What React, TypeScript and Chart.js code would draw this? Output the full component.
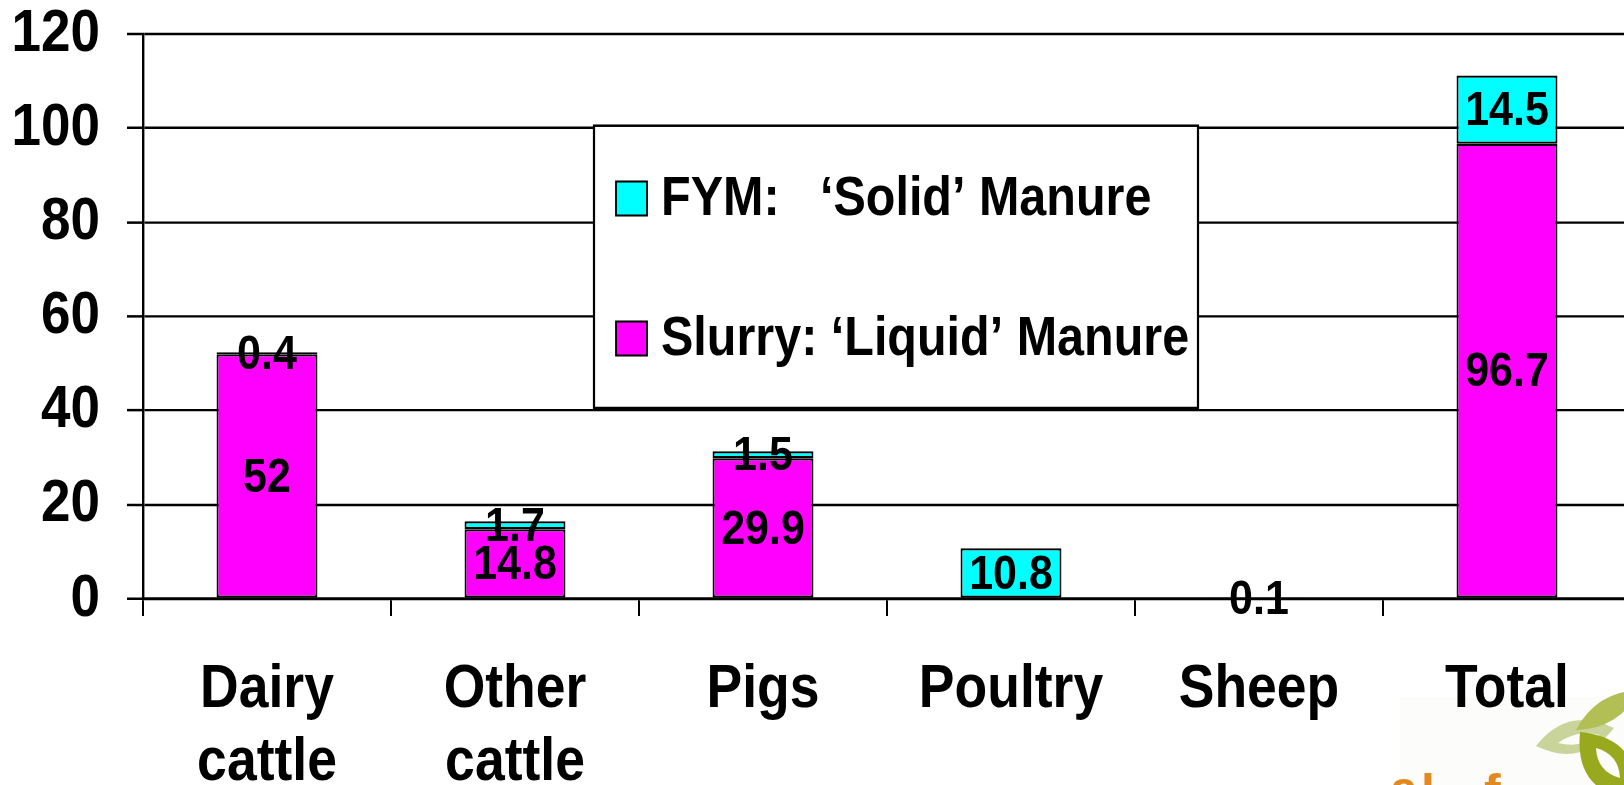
import React, { useEffect, useRef } from 'react';
import { Chart, registerables } from 'chart.js';

Chart.register(...registerables);

// ---- data ----
const categories: (string | string[])[] = [['Dairy', 'cattle'], ['Other', 'cattle'], 'Pigs', 'Poultry', 'Sheep', 'Total'];
const slurryValues = [52, 14.8, 29.9, 0, 0, 96.7];
const fymValues = [0.4, 1.7, 1.5, 10.8, 0.1, 14.5];
const slurryLabel = 'Slurry: \u2018Liquid\u2019 Manure';
const fymLabel = 'FYM:   \u2018Solid\u2019 Manure';
const yMin = 0;
const yMax = 120;
const yStep = 20;

// ---- layout ----
const W = 1640; // canvas wider than viewport so the plot runs past the right edge
const H_FULL = 785;
const H_LOG = 695; // logical height; drawn stretched vertically (like the source slide)
const K = H_FULL / H_LOG;
const L = (v: number) => v / K; // full-pixel y -> logical y
const FONT = "'Liberation Sans', Arial, Helvetica, sans-serif";
const MAGENTA = '#FF00FF';
const CYAN = '#00FFFF';

const valueLabelPlugin = {
  id: 'valueLabels',
  afterDatasetsDraw(chart: any) {
    const ctx = chart.ctx;
    ctx.save();
    ctx.font = `bold 43px ${FONT}`;
    ctx.fillStyle = '#000';
    ctx.textAlign = 'center';
    ctx.textBaseline = 'middle';
    chart.data.datasets.forEach((ds: any, di: number) => {
      const meta = chart.getDatasetMeta(di);
      meta.data.forEach((bar: any, i: number) => {
        const v = ds.data[i];
        if (!v) return;
        const cy = (bar.y + bar.base) / 2;
        ctx.fillText(String(v), bar.x, cy + 2);
      });
    });
    ctx.restore();
  },
};

const legendPlugin = {
  id: 'boxLegend',
  afterDatasetsDraw(chart: any) {
    const ctx = chart.ctx;
    const ds = chart.data.datasets;
    ctx.save();
    const x0 = 594, x1 = 1198, y0 = L(125.7), y1 = L(408);
    ctx.fillStyle = '#fff';
    ctx.fillRect(x0, y0, x1 - x0, y1 - y0);
    ctx.strokeStyle = '#000';
    ctx.lineWidth = 2.2;
    ctx.strokeRect(x0, y0, x1 - x0, y1 - y0);
    const items = [
      { label: ds[1].label, color: ds[1].backgroundColor, cy: L(198.5) },
      { label: ds[0].label, color: ds[0].backgroundColor, cy: L(338.5) },
    ];
    items.forEach((it) => {
      const sh = L(34);
      ctx.fillStyle = it.color;
      ctx.fillRect(616, it.cy - sh / 2, 31, sh);
      ctx.lineWidth = 1.8;
      ctx.strokeStyle = '#000';
      ctx.strokeRect(616, it.cy - sh / 2, 31, sh);
      ctx.fillStyle = '#000';
      ctx.font = `bold 48.5px ${FONT}`;
      ctx.textAlign = 'left';
      ctx.textBaseline = 'middle';
      ctx.fillText(it.label, 661, it.cy + 1);
    });
    ctx.restore();
  },
};

function almond(ctx: CanvasRenderingContext2D, x1: number, y1: number, x2: number, y2: number, half: number) {
  const mx = (x1 + x2) / 2, my = (y1 + y2) / 2;
  const dx = x2 - x1, dy = y2 - y1;
  const len = Math.hypot(dx, dy) || 1;
  const nx = -dy / len, ny = dx / len;
  const c = half * 2;
  ctx.moveTo(x1, y1);
  ctx.quadraticCurveTo(mx + nx * c, my + ny * c, x2, y2);
  ctx.quadraticCurveTo(mx - nx * c, my - ny * c, x1, y1);
  ctx.closePath();
}

const logoPlugin = {
  id: 'logo',
  beforeDraw(chart: any) {
    const ctx: CanvasRenderingContext2D = chart.ctx;
    ctx.save();
    ctx.scale(1, 1 / K); // draw in full-pixel coordinates
    const bg = '#fcfcfa';
    ctx.fillStyle = bg;
    ctx.fillRect(1400, 697, 240, 90);
    // pale leaf (ring)
    ctx.fillStyle = '#c9d49b';
    ctx.beginPath();
    almond(ctx, 1536, 746, 1614, 728, 16);
    ctx.fill();
    ctx.fillStyle = bg;
    ctx.beginPath();
    almond(ctx, 1558, 743, 1600, 735, 5);
    ctx.fill();
    // upper olive band
    ctx.fillStyle = '#b2bf55';
    ctx.beginPath();
    almond(ctx, 1576, 730, 1640, 690, 11);
    ctx.fill();
    // dark olive loop
    ctx.fillStyle = '#98a91d';
    ctx.beginPath();
    almond(ctx, 1580, 732, 1636, 800, 22);
    ctx.fill();
    ctx.fillStyle = bg;
    ctx.beginPath();
    almond(ctx, 1596, 748, 1620, 778, 7);
    ctx.fill();
    // orange wordmark fragment
    ctx.fillStyle = '#e28a1f';
    ctx.font = `bold 50px ${FONT}`;
    ctx.textAlign = 'left';
    ctx.textBaseline = 'alphabetic';
    ctx.fillText('a', 1390, 780 + 26);
    ctx.fillText('l', 1421, 773 + 36);
    ctx.fillText('f', 1484, 773 + 36);
    ctx.restore();
  },
};

export default function App() {
  const ref = useRef<HTMLCanvasElement | null>(null);

  useEffect(() => {
    const canvas = ref.current!;
    canvas.width = W;
    canvas.height = H_LOG;
    const chart = new Chart(canvas, {
      type: 'bar',
      data: {
        labels: categories as any,
        datasets: [
          {
            label: slurryLabel,
            data: slurryValues,
            backgroundColor: MAGENTA,
            borderColor: '#000',
            borderWidth: 2,
            borderSkipped: false,
            barPercentage: 0.407,
            categoryPercentage: 1,
          },
          {
            label: fymLabel,
            data: fymValues,
            backgroundColor: CYAN,
            borderColor: '#000',
            borderWidth: 2,
            borderSkipped: false,
            barPercentage: 0.407,
            categoryPercentage: 1,
          },
        ],
      },
      options: {
        responsive: false,
        animation: false,
        devicePixelRatio: 1,
        events: [],
        layout: { padding: { top: L(34), right: 9, left: 0, bottom: 0 } },
        plugins: { legend: { display: false }, tooltip: { enabled: false }, title: { display: false } },
        scales: {
          x: {
            stacked: true,
            grid: { offset: true, drawOnChartArea: false, color: '#000', lineWidth: 2, tickLength: 15 },
            border: { display: true, color: '#000', width: 2.4 },
            ticks: {
              color: '#000',
              font: { family: FONT, size: 53.5, weight: 'bold', lineHeight: 1.22 },
              padding: 33,
              maxRotation: 0,
              autoSkip: false,
            },
            afterFit: (s: any) => {
              s.height = H_LOG - L(599);
            },
          },
          y: {
            stacked: true,
            min: yMin,
            max: yMax,
            ticks: {
              stepSize: yStep,
              color: '#000',
              font: { family: FONT, size: 53, weight: 'bold' },
              padding: 27,
            },
            grid: { color: '#000', lineWidth: 2.2, tickLength: 16 },
            border: { display: true, color: '#000', width: 2.4 },
            afterFit: (s: any) => {
              s.width = 143;
              s.paddingTop = 0;
              s.paddingBottom = 0;
            },
          },
        },
      } as any,
      plugins: [logoPlugin, valueLabelPlugin, legendPlugin],
    });
    // stretch vertically without blurring: enlarge bitmap, scale drawing
    canvas.height = H_FULL;
    const ctx = canvas.getContext('2d')!;
    ctx.setTransform(1, 0, 0, K, 0, 0);
    chart.draw();
    return () => {
      chart.destroy();
    };
  }, []);

  return (
    <div style={{ position: 'fixed', left: 0, top: 0, width: 1624, height: 785, overflow: 'hidden', background: '#fff' }}>
      <canvas ref={ref} width={W} height={H_LOG} style={{ width: W + 'px', height: H_FULL + 'px', display: 'block' }} />
    </div>
  );
}
